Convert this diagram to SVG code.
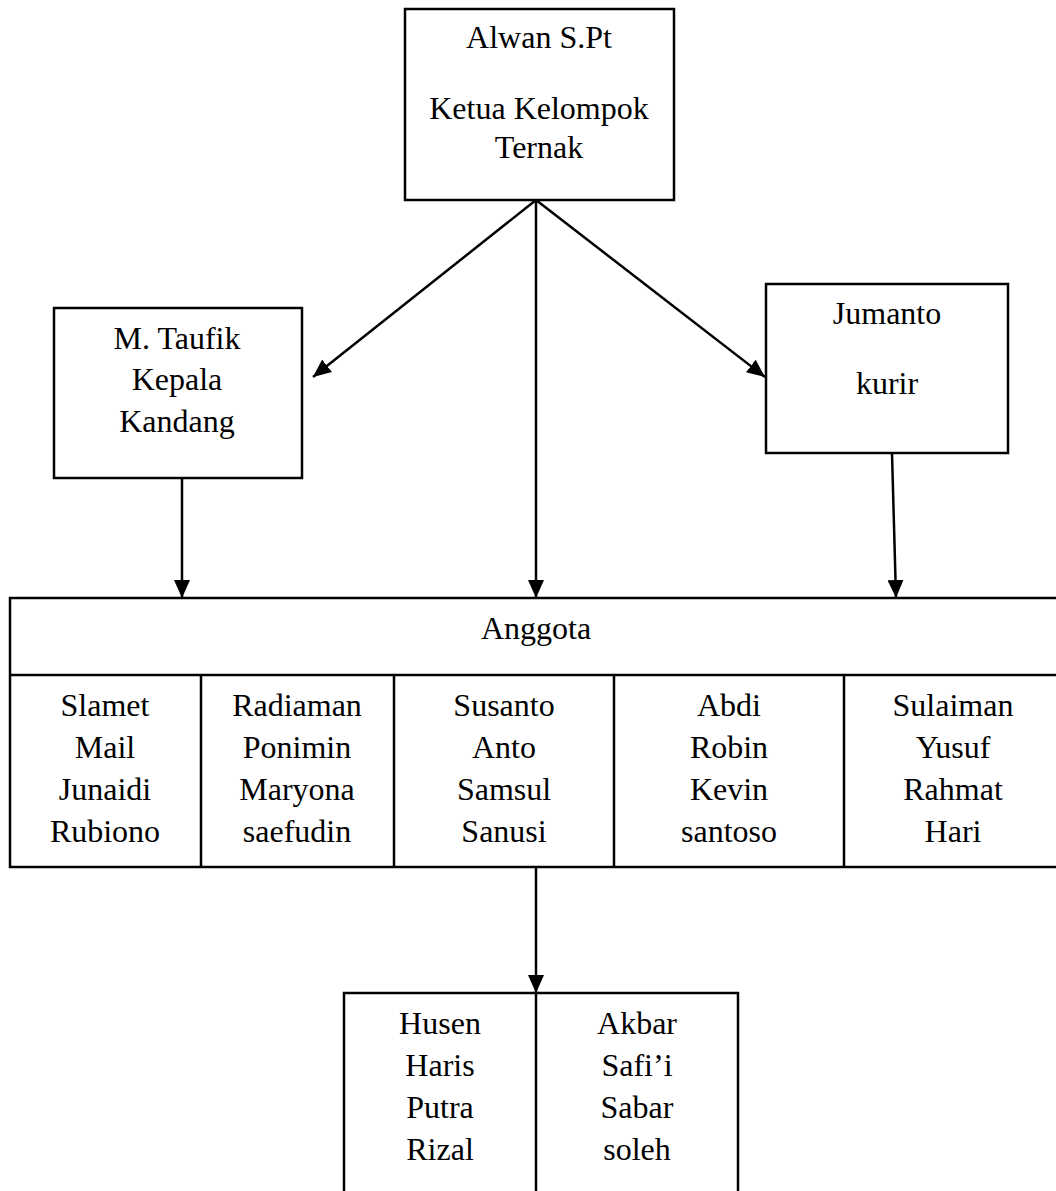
<svg xmlns="http://www.w3.org/2000/svg" width="1056" height="1191" viewBox="0 0 1056 1191">
<style>
.box{fill:#fff;stroke:#000;stroke-width:2.5}
.ln{stroke:#000;stroke-width:2.5;fill:none}
text{font-family:"Liberation Serif","Times New Roman",serif;font-size:32px;fill:#000;text-anchor:middle}
</style>
<defs>
<marker id="arr" viewBox="0 0 18 16" refX="18" refY="8" markerWidth="18" markerHeight="16" markerUnits="userSpaceOnUse" orient="auto">
<path d="M0,0 L18,8 L0,16 z" fill="#000"/>
</marker>
</defs>
<rect width="1056" height="1191" fill="#fff"/>
<g id="ketua">
<rect class="box" x="405" y="9" width="269" height="191"/>
<text x="539" y="48">Alwan S.Pt</text>
<text x="539" y="119">Ketua Kelompok</text>
<text x="539" y="158">Ternak</text>
</g>
<g id="kepala">
<rect class="box" x="54" y="308" width="248" height="170"/>
<text x="177" y="349">M. Taufik</text>
<text x="177" y="390">Kepala</text>
<text x="177" y="432">Kandang</text>
</g>
<g id="kurir">
<rect class="box" x="766" y="284" width="242" height="169"/>
<text x="887" y="324">Jumanto</text>
<text x="887" y="394">kurir</text>
</g>
<g id="anggota">
<path class="ln" d="M1060,598 H10 V867 H1060 M10,675 H1060 M201,675 V867 M394,675 V867 M614,675 V867 M844,675 V867"/>
<text x="536" y="639">Anggota</text>
<text x="105" y="716">Slamet</text>
<text x="105" y="758">Mail</text>
<text x="105" y="800">Junaidi</text>
<text x="105" y="842">Rubiono</text>
<text x="297" y="716">Radiaman</text>
<text x="297" y="758">Ponimin</text>
<text x="297" y="800">Maryona</text>
<text x="297" y="842">saefudin</text>
<text x="504" y="716">Susanto</text>
<text x="504" y="758">Anto</text>
<text x="504" y="800">Samsul</text>
<text x="504" y="842">Sanusi</text>
<text x="729" y="716">Abdi</text>
<text x="729" y="758">Robin</text>
<text x="729" y="800">Kevin</text>
<text x="729" y="842">santoso</text>
<text x="953" y="716">Sulaiman</text>
<text x="953" y="758">Yusuf</text>
<text x="953" y="800">Rahmat</text>
<text x="953" y="842">Hari</text>
</g>
<g id="sub">
<path class="ln" d="M344,1195 V993 H738 V1195 M536,993 V1195"/>
<text x="440" y="1034">Husen</text>
<text x="440" y="1076">Haris</text>
<text x="440" y="1118">Putra</text>
<text x="440" y="1160">Rizal</text>
<text x="637" y="1034">Akbar</text>
<text x="637" y="1076">Safi’i</text>
<text x="637" y="1118">Sabar</text>
<text x="637" y="1160">soleh</text>
</g>
<g id="connectors">
<line class="ln" x1="536" y1="200" x2="313" y2="377" marker-end="url(#arr)"/>
<line class="ln" x1="536" y1="200" x2="765" y2="377" marker-end="url(#arr)"/>
<line class="ln" x1="536" y1="200" x2="536" y2="598" marker-end="url(#arr)"/>
<line class="ln" x1="182" y1="478" x2="182" y2="598" marker-end="url(#arr)"/>
<line class="ln" x1="892" y1="453" x2="896" y2="598" marker-end="url(#arr)"/>
<line class="ln" x1="536" y1="867" x2="536" y2="993" marker-end="url(#arr)"/>
</g>
</svg>
